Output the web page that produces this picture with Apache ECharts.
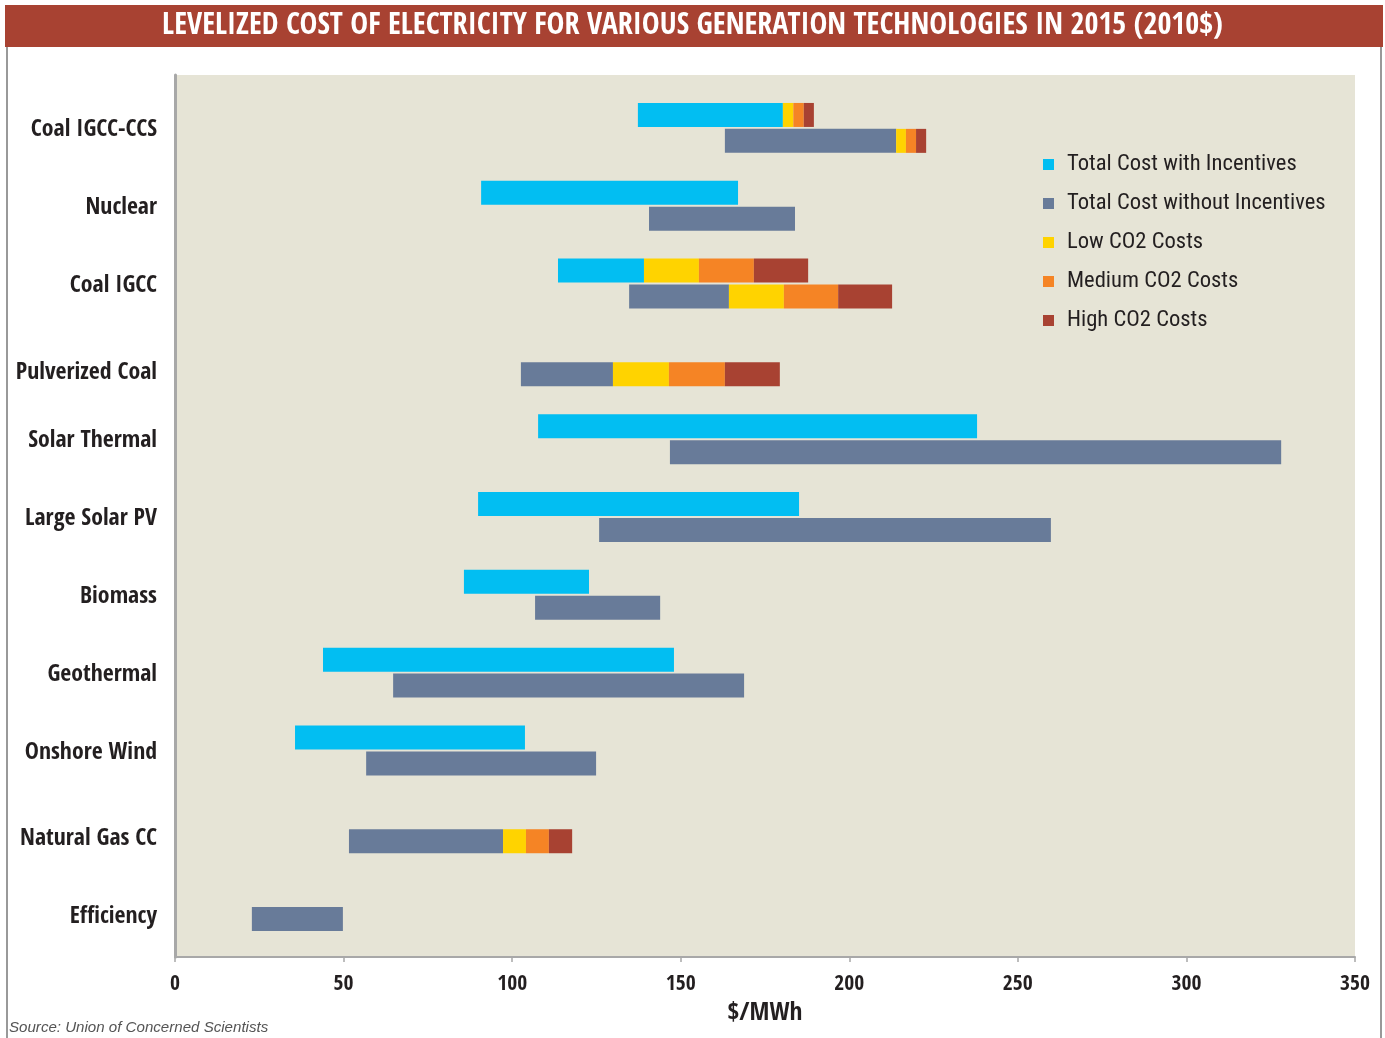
<!DOCTYPE html>
<html>
<head>
<meta charset="utf-8">
<script src="https://cdn.jsdelivr.net/npm/echarts@6/dist/echarts.min.js"></script>
<style>
html,body{margin:0;padding:0;background:#fff;}
#main{width:1385px;height:1038px;}
</style>
</head>
<body>
<div id="main"></div>
<script>
// ---- data ----
var categories = ['Coal IGCC-CCS', 'Nuclear', 'Coal IGCC', 'Pulverized Coal', 'Solar Thermal',
  'Large Solar PV', 'Biomass', 'Geothermal', 'Onshore Wind', 'Natural Gas CC', 'Efficiency'];
// Total cost with incentives: range start / end ($/MWh)
var withIncStart = [137.3, 90.8, 113.6, null, 107.7, 89.9, 85.7, 43.9, 35.6, null, null];
var withIncEnd   = [180.3, 167.0, 139.1, null, 237.9, 185.1, 122.8, 148.0, 103.8, null, null];
// Total cost without incentives: range start / end ($/MWh)
var withoutIncStart = [163.1, 140.6, 134.7, 102.6, 146.8, 125.8, 106.8, 64.7, 56.7, 51.6, 22.8];
var withoutIncEnd   = [213.9, 183.9, 164.3, 129.9, 328.1, 259.8, 143.9, 168.8, 124.9, 97.3, 49.8];
// CO2 cost adders stacked after the "with incentives" bar
var withIncLowCO2  = [3.1, null, 16.3, null, null, null, null, null, null, null, null];
var withIncMedCO2  = [3.1, null, 16.3, null, null, null, null, null, null, null, null];
var withIncHighCO2 = [3.0, null, 16.1, null, null, null, null, null, null, null, null];
// CO2 cost adders stacked after the "without incentives" bar
var withoutIncLowCO2  = [2.9, null, 16.3, 16.6, null, null, null, null, null, 6.8, null];
var withoutIncMedCO2  = [3.0, null, 16.1, 16.6, null, null, null, null, null, 6.8, null];
var withoutIncHighCO2 = [3.0, null, 16.0, 16.3, null, null, null, null, null, 6.9, null];
var xTicks = {min: 0, max: 350, interval: 50};
var singleRowCategories = ['Pulverized Coal', 'Natural Gas CC', 'Efficiency'];
var titleText = 'LEVELIZED COST OF ELECTRICITY FOR VARIOUS GENERATION TECHNOLOGIES IN 2015 (2010$)';
var sourceText = 'Source: Union of Concerned Scientists';

var FONT = '"Open Sans Condensed", "Roboto Condensed", "DejaVu Sans Condensed", sans-serif';
var FONT_LEG = '"Roboto Condensed", "DejaVu Sans Condensed", sans-serif';
var FONT_SRC = '"Liberation Sans", Arial, sans-serif';
var C = {blue: '#02BEF2', grey: '#687B99', low: '#FFD300', med: '#F58425', high: '#A84232', bg: '#E6E4D6', text: '#231F20'};

// font size that makes a text span a given width in the reference
var mcv = document.createElement('canvas').getContext('2d');
function fitSize(text, weight, family, target, style) {
  mcv.font = (style || 'normal') + ' ' + weight + ' 100px ' + family;
  return Math.round(1000 * target / mcv.measureText(text).width) / 10;
}
var fsTitle  = fitSize(titleText, 'bold', FONT, 1061);
var fsY      = fitSize('Coal IGCC-CCS', 'bold', FONT, 126);
var fsX      = fitSize('350', 'bold', FONT, 30);
var fsName   = fitSize('$/MWh', 'bold', FONT, 75);
var fsLegend = fitSize('Total Cost without Incentives', 'normal', FONT_LEG, 259);
var fsSrc    = fitSize(sourceText, 'normal', FONT_SRC, 259, 'italic');

function diff(a, b) { return a.map(function (v, i) { return (v == null || b[i] == null) ? null : +(b[i] - v).toFixed(2); }); }

var BW = 24;
function bar(name, stack, data, color, transparent) {
  return {
    type: 'bar', name: name, stack: stack, data: data,
    xAxisIndex: 1, yAxisIndex: 1,
    barWidth: BW, barGap: '8%',
    itemStyle: {color: transparent ? 'rgba(0,0,0,0)' : color},
    emphasis: {disabled: true},
    silent: !!transparent
  };
}

var series = [
  bar('baseInc', 'inc', withIncStart, null, true),
  bar('Total Cost with Incentives', 'inc', diff(withIncStart, withIncEnd), C.blue),
  bar('Low CO2 Costs', 'inc', withIncLowCO2, C.low),
  bar('Medium CO2 Costs', 'inc', withIncMedCO2, C.med),
  bar('High CO2 Costs', 'inc', withIncHighCO2, C.high),
  bar('baseNoInc', 'noinc', withoutIncStart, null, true),
  bar('Total Cost without Incentives', 'noinc', diff(withoutIncStart, withoutIncEnd), C.grey),
  bar('Low CO2 Costs', 'noinc', withoutIncLowCO2, C.low),
  bar('Medium CO2 Costs', 'noinc', withoutIncMedCO2, C.med),
  bar('High CO2 Costs', 'noinc', withoutIncHighCO2, C.high)
];

var chart = echarts.init(document.getElementById('main'), null, {renderer: 'canvas'});
chart.setOption({
  animation: false,
  backgroundColor: '#fff',
  textStyle: {fontFamily: FONT},
  title: [{
    text: titleText,
    left: 'center', top: 26 - fsTitle * 0.62, padding: 0,
    textStyle: {color: '#fff', fontSize: fsTitle, lineHeight: fsTitle * 1.24, fontWeight: 'bold', fontFamily: FONT}
  }, {
    text: sourceText,
    left: 9, top: 1020, padding: 0,
    textStyle: {color: '#555', fontSize: fsSrc, fontStyle: 'italic', fontWeight: 'normal', fontFamily: FONT_SRC}
  }],
  graphic: [
    {type: 'rect', z: -10, shape: {x: 5, y: 5, width: 1378, height: 42}, style: {fill: '#A84232'}},
    {type: 'line', z: -10, shape: {x1: 7, y1: 47, x2: 7, y2: 1038}, style: {stroke: '#777', lineWidth: 1.5}},
    {type: 'line', z: -10, shape: {x1: 1381, y1: 47, x2: 1381, y2: 1038}, style: {stroke: '#777', lineWidth: 1.5}}
  ],
  legend: {
    orient: 'vertical', left: 1038, top: 148,
    data: ['Total Cost with Incentives', 'Total Cost without Incentives', 'Low CO2 Costs', 'Medium CO2 Costs', 'High CO2 Costs'],
    icon: 'rect', itemWidth: 11, itemHeight: 11, itemGap: 16,
    textStyle: {fontSize: fsLegend, fontWeight: 'normal', lineHeight: 23, color: C.text, fontFamily: FONT_LEG, padding: [0, 0, 0, 8]},
    selectedMode: false
  },
  grid: [
    {left: 175, right: 30, top: 75, bottom: 81, show: true, backgroundColor: C.bg, borderWidth: 0, outerBoundsMode: 'none', containLabel: false},
    {left: 175, right: 30, top: 89, bottom: 93, outerBoundsMode: 'none', containLabel: false}
  ],
  xAxis: [{
    gridIndex: 0, type: 'value', min: xTicks.min, max: xTicks.max, interval: xTicks.interval,
    name: '$/MWh', nameLocation: 'middle', nameGap: 44,
    nameTextStyle: {fontSize: fsName, fontWeight: 'bold', color: C.text, fontFamily: FONT},
    axisLine: {show: true, lineStyle: {color: '#A8A8A8', width: 2}},
    axisTick: {show: true, length: 5, lineStyle: {color: '#A8A8A8', width: 1.5}},
    splitLine: {show: false},
    axisLabel: {fontSize: fsX, fontWeight: 'bold', color: C.text, margin: 16, fontFamily: FONT}
  }, {
    gridIndex: 1, type: 'value', min: xTicks.min, max: xTicks.max, interval: xTicks.interval, show: false
  }],
  yAxis: [{
    gridIndex: 0, type: 'value', min: 0, max: 1,
    axisLine: {show: true, lineStyle: {color: '#A8A8A8', width: 3}},
    axisTick: {show: false}, axisLabel: {show: false}, splitLine: {show: false}
  }, {
    gridIndex: 1, type: 'category', data: categories, inverse: true,
    axisLine: {show: false}, axisTick: {show: false},
    axisLabel: {
      fontSize: fsY, fontWeight: 'bold', color: C.text, margin: 18, fontFamily: FONT,
      formatter: function (v) { return singleRowCategories.indexOf(v) >= 0 ? '{s|' + v + '}' : '{n|' + v + '}'; },
      rich: {
        n: {fontSize: fsY, fontWeight: 'bold', color: C.text, fontFamily: FONT, padding: [4, 0, 0, 0]},
        s: {fontSize: fsY, fontWeight: 'bold', color: C.text, fontFamily: FONT, padding: [22, 0, 0, 0]}
      }
    }
  }],
  series: series
});
</script>
</body>
</html>
